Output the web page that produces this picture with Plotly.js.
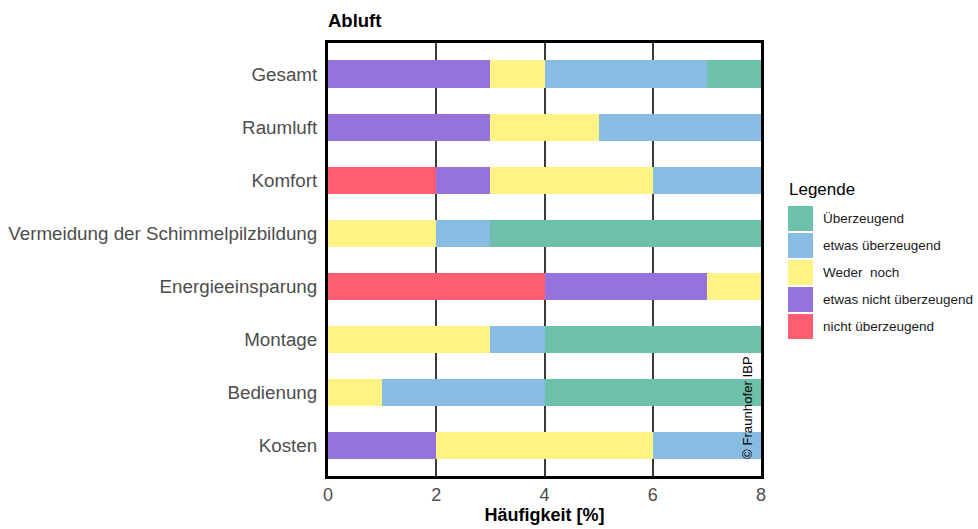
<!DOCTYPE html>
<html>
<head>
<meta charset="utf-8">
<script src="https://cdn.plot.ly/plotly-3.0.1.min.js"></script>
<style>html,body{margin:0;padding:0;background:#fff;}#chart{width:978px;height:529px;}</style>
</head>
<body>
<div id="chart"></div>
<script>
// Categories (top to bottom)
const categories = ["Gesamt", "Raumluft", "Komfort", "Vermeidung der Schimmelpilzbildung", "Energieeinsparung", "Montage", "Bedienung", "Kosten"];

// Series (stack order left to right)
const seriesNames = ["nicht überzeugend", "etwas nicht überzeugend", "Weder  noch", "etwas überzeugend", "Überzeugend"];
const seriesColors = ["#FF5D70", "#9572DC", "#FFF386", "#89BCE2", "#6DC0A9"];

const nichtUeberzeugend      = [0, 0, 2, 0, 4, 0, 0, 0];
const etwasNichtUeberzeugend = [3, 3, 1, 0, 3, 0, 0, 2];
const wederNoch              = [1, 2, 3, 2, 1, 3, 1, 4];
const etwasUeberzeugend      = [3, 3, 2, 1, 0, 1, 3, 2];
const ueberzeugend           = [1, 0, 0, 5, 0, 4, 4, 0];

const seriesValues = [nichtUeberzeugend, etwasNichtUeberzeugend, wederNoch, etwasUeberzeugend, ueberzeugend];

const xTicks = [0, 2, 4, 6, 8];

const FONT = "Liberation Sans, Arial, sans-serif";

const traces = seriesValues.map((vals, i) => ({
  type: "bar",
  orientation: "h",
  y: categories,
  x: vals,
  name: seriesNames[i],
  marker: {color: seriesColors[i], line: {width: 0}},
  showlegend: false,
  hoverinfo: "x+y+name"
}));

// Custom legend (order: Überzeugend on top)
const PL = 328, PR = 761, PT = 43, PB = 476;
const px2x = v => (v - PL) / (PR - PL);
const px2y = v => 1 - (v - PT) / (PB - PT);
const shapes = [];
const annotations = [];
const legendOrder = seriesNames.map((n, i) => i).reverse();
const legX = 788, legY0 = 206, sw = 25, pitch = 27;
legendOrder.forEach((idx, k) => {
  const top = legY0 + k * pitch;
  shapes.push({
    type: "rect", xref: "paper", yref: "paper", layer: "above",
    x0: px2x(legX), x1: px2x(legX + sw),
    y0: px2y(top), y1: px2y(top + sw),
    fillcolor: seriesColors[idx], line: {width: 0}
  });
  annotations.push({
    xref: "paper", yref: "paper",
    x: px2x(legX + 33), y: px2y(top + sw / 2),
    xanchor: "left", yanchor: "middle", showarrow: false,
    text: seriesNames[idx],
    font: {family: FONT, size: 13.5, color: "#1a1a1a"}
  });
});
annotations.push({
  xref: "paper", yref: "paper",
  x: px2x(legX - 1), y: px2y(189),
  xanchor: "left", yanchor: "middle", showarrow: false,
  text: "Legende",
  font: {family: FONT, size: 17, color: "#000"}
});
annotations.push({
  xref: "paper", yref: "paper",
  x: px2x(747), y: px2y(408),
  xanchor: "center", yanchor: "middle", showarrow: false, textangle: -90,
  text: "© Fraunhofer IBP",
  font: {family: FONT, size: 13.2, color: "#000"}
});

const layout = {
  width: 978, height: 529,
  margin: {l: PL, r: 978 - PR, t: PT, b: 529 - PB, pad: 0},
  paper_bgcolor: "#fff", plot_bgcolor: "#fff",
  barmode: "stack",
  bargap: 0.49,
  title: {
    text: "<b>Abluft</b>",
    font: {family: FONT, size: 18.5, color: "#000"},
    x: 0, xanchor: "left", xref: "paper",
    y: 1 - 21 / 529, yanchor: "middle"
  },
  xaxis: {
    range: [0, 8],
    tickvals: xTicks,
    ticktext: xTicks.map(String),
    showgrid: true, gridcolor: "#3a3a3a", gridwidth: 2,
    zeroline: false,
    showline: true, mirror: true, linecolor: "#000", linewidth: 3,
    ticks: "",
    tickfont: {family: FONT, size: 18, color: "#4d4d4d"},
    title: {text: "<b>Häufigkeit [%]</b>", font: {family: FONT, size: 18, color: "#000"}, standoff: 4},
    fixedrange: true
  },
  yaxis: {
    type: "category",
    categoryorder: "array",
    categoryarray: categories,
    range: [7.571, -0.584],
    showgrid: false, zeroline: false,
    showline: true, mirror: true, linecolor: "#000", linewidth: 3,
    ticks: "",
    ticklabelstandoff: 4,
    tickfont: {family: FONT, size: 18.8, color: "#4d4d4d"},
    fixedrange: true
  },
  shapes: shapes,
  annotations: annotations,
  showlegend: false
};

Plotly.newPlot("chart", traces, layout, {displayModeBar: false, staticPlot: true});
</script>
</body>
</html>
